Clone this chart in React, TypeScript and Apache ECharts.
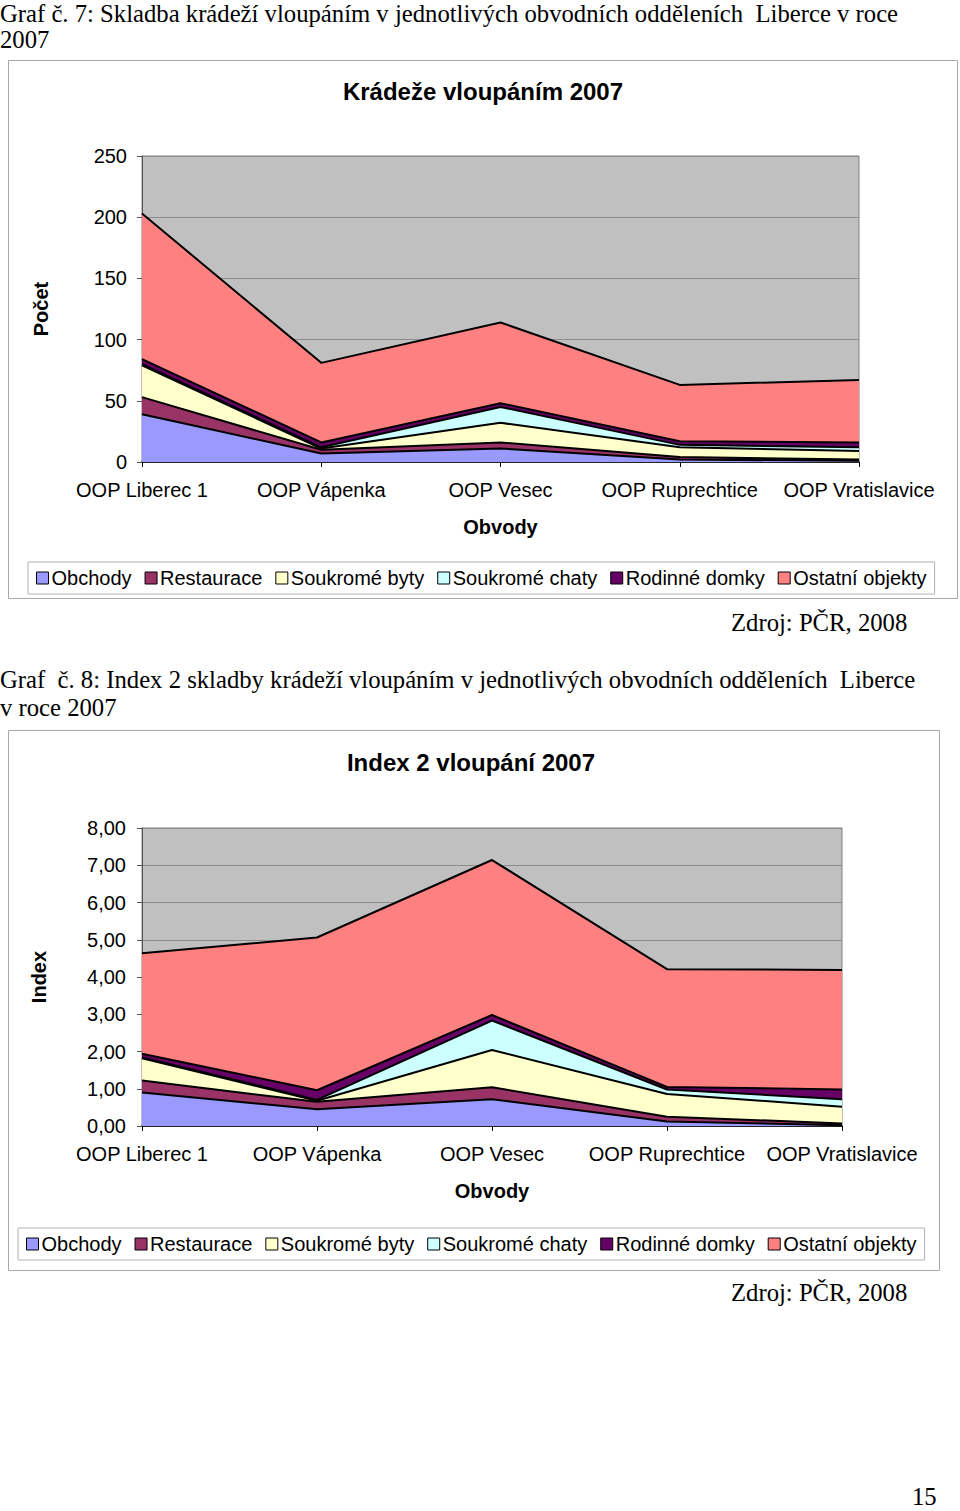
import React, { useEffect, useRef } from "react";
import * as echarts from "echarts";

const categories = ["OOP Liberec 1", "OOP Vápenka", "OOP Vesec", "OOP Ruprechtice", "OOP Vratislavice"];
const seriesNames = ["Obchody", "Restaurace", "Soukromé byty", "Soukromé chaty", "Rodinné domky", "Ostatní objekty"];
const seriesColors = ["#9999FF", "#993366", "#FFFFCC", "#CCFFFF", "#660066", "#FF8080"];

// Chart 1: counts
const obchody = [39, 7, 11, 2, 1];
const restaurace = [14, 3, 5, 2, 1];
const soukromeByty = [26, 1, 16, 8, 7];
const soukromeChaty = [1, 1, 13, 2, 3];
const rodinneDomky = [4, 4, 3, 3, 4];
const ostatniObjekty = [119, 65, 66, 46, 51];

// Chart 2: index
const iObchody = [0.9, 0.45, 0.72, 0.12, 0.02];
const iRestaurace = [0.32, 0.2, 0.32, 0.13, 0.05];
const iSoukromeByty = [0.6, 0.03, 1.0, 0.61, 0.45];
const iSoukromeChaty = [0.02, 0.02, 0.79, 0.12, 0.2];
const iRodinneDomky = [0.1, 0.26, 0.15, 0.07, 0.26];
const iOstatniObjekty = [2.7, 4.1, 4.16, 3.16, 3.21];

const countData = [obchody, restaurace, soukromeByty, soukromeChaty, rodinneDomky, ostatniObjekty];
const indexData = [iObchody, iRestaurace, iSoukromeByty, iSoukromeChaty, iRodinneDomky, iOstatniObjekty];

const SANS = "'Liberation Sans', Arial, sans-serif";
const SERIF = "'Liberation Serif', 'Times New Roman', serif";

function makeSeries(data: number[][], idx: number, stack: string) {
  return data.map((vals, i) => ({
    name: seriesNames[i],
    type: "line",
    stack,
    xAxisIndex: idx,
    yAxisIndex: idx,
    data: vals,
    showSymbol: false,
    symbol: "none",
    lineStyle: { color: "#000", width: 2 },
    itemStyle: { color: seriesColors[i], borderColor: "#000", borderWidth: 1 },
    areaStyle: { color: seriesColors[i], opacity: 1 },
    emphasis: { disabled: true },
  }));
}

function caption(text: string, x: number, y: number, align = "left") {
  return {
    type: "text",
    x,
    y,
    style: {
      text,
      font: `24.7px ${SERIF}`,
      fill: "#000",
      textAlign: align,
      textVerticalAlign: "middle",
      verticalAlign: "middle",
    },
  };
}

function legendCfg(left: number, top: number) {
  return {
    data: seriesNames,
    left,
    top,
    orient: "horizontal",
    padding: [6, 8],
    itemGap: 13,
    itemWidth: 12,
    itemHeight: 12,
    icon: "rect",
    borderColor: "#b0b0b0",
    borderWidth: 1,
    selectedMode: false,
    itemStyle: { borderColor: "#000", borderWidth: 1 },
    textStyle: { fontFamily: SANS, fontSize: 20, color: "#000", padding: [0, 0, 0, -2] },
  };
}

export default function App() {
  const ref = useRef<HTMLDivElement>(null);
  useEffect(() => {
    if (!ref.current) return;
    const chart = echarts.init(ref.current, null, { renderer: "svg" });
    const xAxisCommon = {
      type: "category",
      data: categories,
      boundaryGap: false,
      axisLine: { lineStyle: { color: "#000", width: 1.5 } },
      axisTick: { show: true, alignWithLabel: true, length: 5, lineStyle: { color: "#000" } },
      axisLabel: { interval: 0, color: "#000", fontFamily: SANS, fontSize: 20, margin: 18 },
      name: "Obvody",
      nameLocation: "middle",
      nameGap: 55,
      nameTextStyle: { color: "#000", fontFamily: SANS, fontSize: 20, fontWeight: "bold" },
      splitLine: { show: false },
    };
    const yAxisCommon = {
      type: "value",
      axisLine: { show: true, lineStyle: { color: "#555" } },
      axisTick: { show: true, length: 5, lineStyle: { color: "#555" } },
      splitLine: { show: true, lineStyle: { color: "#8c8c8c", width: 1 } },
      nameLocation: "middle",
      nameRotate: 90,
      nameTextStyle: { color: "#000", fontFamily: SANS, fontSize: 20, fontWeight: "bold" },
    };
    const option: any = {
      animation: false,
      backgroundColor: "#fff",
      title: [
        {
          text: "Krádeže vloupáním 2007",
          left: 483,
          top: 79,
          textAlign: "center",
          padding: 0,
          textStyle: { fontFamily: SANS, fontSize: 24, fontWeight: "bold", color: "#000" },
        },
        {
          text: "Index 2 vloupání 2007",
          left: 471,
          top: 750,
          textAlign: "center",
          padding: 0,
          textStyle: { fontFamily: SANS, fontSize: 24, fontWeight: "bold", color: "#000" },
        },
      ],
      legend: [legendCfg(28, 562), legendCfg(18, 1228)],
      grid: [
        {
          left: 142,
          top: 156,
          width: 717,
          height: 306,
          show: true,
          backgroundColor: "#C0C0C0",
          borderColor: "#808080",
          borderWidth: 1,
          containLabel: false,
        },
        {
          left: 142,
          top: 828,
          width: 700,
          height: 298,
          show: true,
          backgroundColor: "#C0C0C0",
          borderColor: "#808080",
          borderWidth: 1,
          containLabel: false,
        },
      ],
      xAxis: [
        { ...xAxisCommon, gridIndex: 0 },
        { ...xAxisCommon, gridIndex: 1 },
      ],
      yAxis: [
        {
          ...yAxisCommon,
          gridIndex: 0,
          min: 0,
          max: 250,
          interval: 50,
          axisLabel: { color: "#000", fontFamily: SANS, fontSize: 20, margin: 15 },
          name: "Počet",
          nameGap: 91,
        },
        {
          ...yAxisCommon,
          gridIndex: 1,
          min: 0,
          max: 8,
          interval: 1,
          axisLabel: {
            color: "#000",
            fontFamily: SANS,
            fontSize: 20,
            margin: 16,
            formatter: (v: number) => v.toFixed(2).replace(".", ","),
          },
          name: "Index",
          nameGap: 93,
        },
      ],
      series: [...makeSeries(countData, 0, "a"), ...makeSeries(indexData, 1, "b")],
      graphic: [
        {
          type: "rect",
          shape: { x: 8.5, y: 60.5, width: 949, height: 538 },
          style: { fill: "none", stroke: "#a8a8a8", lineWidth: 1 },
          silent: true,
          z: -1,
        },
        {
          type: "rect",
          shape: { x: 8.5, y: 730.5, width: 931, height: 540 },
          style: { fill: "none", stroke: "#a8a8a8", lineWidth: 1 },
          silent: true,
          z: -1,
        },
        caption("Graf č. 7: Skladba krádeží vloupáním v jednotlivých obvodních odděleních  Liberce v roce", 0, 13),
        caption("2007", 0, 39),
        caption("Zdroj: PČR, 2008", 731, 622),
        caption("Graf  č. 8: Index 2 skladby krádeží vloupáním v jednotlivých obvodních odděleních  Liberce", 0, 679),
        caption("v roce 2007", 0, 707),
        caption("Zdroj: PČR, 2008", 731, 1292),
        caption("15", 912, 1496),
      ],
    };
    chart.setOption(option);
    return () => chart.dispose();
  }, []);
  return (
    <div
      ref={ref}
      style={{ position: "absolute", left: 0, top: 0, width: 960, height: 1511, background: "#fff" }}
    />
  );
}
